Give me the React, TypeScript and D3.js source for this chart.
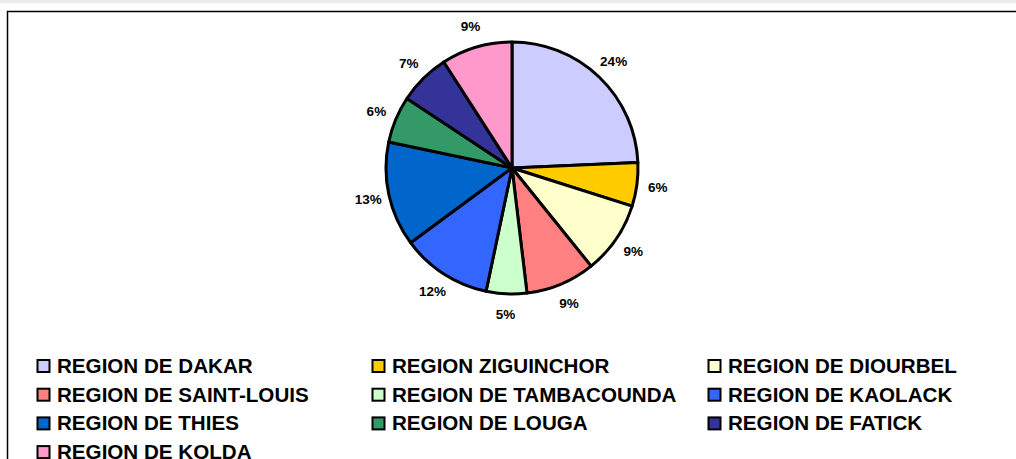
import React from 'react';
import * as d3 from 'd3';

const regions = [
  'REGION DE DAKAR',
  'REGION ZIGUINCHOR',
  'REGION DE DIOURBEL',
  'REGION DE SAINT-LOUIS',
  'REGION DE TAMBACOUNDA',
  'REGION DE KAOLACK',
  'REGION DE THIES',
  'REGION DE LOUGA',
  'REGION DE FATICK',
  'REGION DE KOLDA',
];
const shares = [24.3, 5.6, 9.3, 8.9, 5.2, 11.6, 13.4, 6.0, 6.6, 9.1];
const colors = [
  '#CCCCFF', '#FFCC00', '#FFFFCC', '#FF8080', '#CCFFCC',
  '#3366FF', '#0066CC', '#339966', '#333399', '#FF99CC',
];

const W = 1016;
const H = 459;

export default function App() {
  const cx = 512;
  const cy = 168;
  const r = 126;

  const pie = d3.pie<number>().sort(null).value(d => d);
  const arcs = pie(shares);
  const arc = d3.arc<d3.PieArcDatum<number>>().innerRadius(0).outerRadius(r);
  const labelArc = d3.arc<d3.PieArcDatum<number>>().innerRadius(147).outerRadius(147);

  const col = d3.scaleOrdinal<number, number>().domain([0, 1, 2]).range([37, 372, 708]);
  const row = d3.scaleLinear().domain([0, 1]).range([366, 394.7]);

  return (
    <svg width={W} height={H} style={{ position: 'absolute', left: 0, top: 0, background: '#fff' }}
      fontFamily="'Liberation Sans', Arial, sans-serif" fontWeight="bold">
      <rect x={0} y={0} width={W} height={3} fill="#ebebeb" />
      <path d={`M7.5,${H} V11.5 H${W}`} fill="none" stroke="#000" strokeWidth={1.5} />
      <g transform={`translate(${cx},${cy})`}>
        {arcs.map((a, i) => (
          <path key={i} d={arc(a) || ''} fill={colors[i]} stroke="#000" strokeWidth={3} strokeLinejoin="round" />
        ))}
        {arcs.map((a, i) => {
          const [x, y] = labelArc.centroid(a);
          return (
            <text key={i} x={x} y={y} textAnchor="middle" dominantBaseline="central" fontSize={13.5} fill="#000">
              {Math.round(a.data)}%
            </text>
          );
        })}
      </g>
      <g>
        {regions.map((name, i) => {
          const x = col(i % 3);
          const y = row(Math.floor(i / 3));
          return (
            <g key={name} transform={`translate(${x},${y})`}>
              <rect x={0.5} y={-6} width={12} height={12} fill={colors[i]} stroke="#000" strokeWidth={2} />
              <text x={20} y={7} fontSize={20.6} fill="#000">{name}</text>
            </g>
          );
        })}
      </g>
    </svg>
  );
}
